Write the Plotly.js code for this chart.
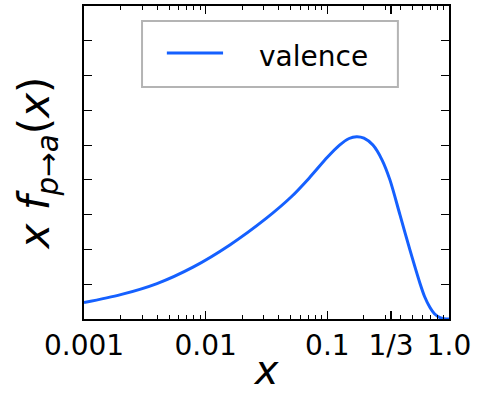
<!DOCTYPE html>
<html>
<head>
<meta charset="utf-8">
<script src="https://cdn.plot.ly/plotly-3.0.1.min.js"></script>
<style>
  html, body { margin: 0; padding: 0; background: #ffffff; }
  #chart { width: 477px; height: 393px; }
</style>
</head>
<body>
<div id="chart"></div>
<script>
// Momentum fraction x and the valence distribution x f(x)
const xValues = [0.001, 0.002, 0.00398, 0.00794, 0.0158, 0.0316, 0.0501, 0.0708, 0.1,
                 0.126, 0.151, 0.174, 0.2, 0.237, 0.282, 0.327, 0.395, 0.478,
                 0.577, 0.631, 0.698, 0.759, 0.843, 0.912, 1.0];
const xfValues = [0.47, 0.70, 1.02, 1.50, 2.13, 2.90, 3.50, 4.05, 4.65,
                  5.00, 5.19, 5.24, 5.20, 5.00, 4.57, 4.00, 3.00, 1.98,
                  1.03, 0.64, 0.33, 0.15, 0.04, 0.01, 0.0];

const seriesName = 'valence';
const xTickVals = [0.001, 0.01, 0.1, 1 / 3, 1.0];
const xTickText = ['0.001', '0.01', '0.1', '1/3', '1.0'];
const minorTickVals = [];
for (let d = -3; d < 0; d++) {
  for (let m = 2; m <= 9; m++) minorTickVals.push(m * Math.pow(10, d));
}

const lineColor = '#1560ff';
const font = 'DejaVu Sans, Verdana, sans-serif';

const curve = {
  x: xValues,
  y: xfValues,
  type: 'scatter',
  mode: 'lines',
  name: seriesName,
  line: { color: lineColor, width: 3, shape: 'spline', smoothing: 0.8 },
  showlegend: false,
  hoverinfo: 'skip'
};

const layout = {
  width: 477,
  height: 393,
  margin: { l: 84, r: 28, t: 6, b: 74 },
  paper_bgcolor: '#ffffff',
  plot_bgcolor: '#ffffff',
  font: { family: font, color: '#000000' },
  xaxis: {
    type: 'log',
    range: [-3, 0],
    tickmode: 'array',
    tickvals: xTickVals,
    ticktext: xTickText,
    ticks: 'inside',
    ticklen: 8,
    tickwidth: 1.2,
    tickcolor: '#000000',
    ticklabelstandoff: 0,
    tickfont: { family: font, size: 28, color: '#000000' },
    minor: {
      tickmode: 'array',
      tickvals: minorTickVals,
      ticks: 'inside',
      ticklen: 4,
      tickwidth: 1,
      tickcolor: '#000000',
      showgrid: false
    },
    showline: true,
    linecolor: '#000000',
    linewidth: 2,
    mirror: 'ticks',
    showgrid: false,
    zeroline: false,
    automargin: false,
    title: { text: '<i>x</i>', font: { family: font, size: 40, color: '#000000' }, standoff: 13 }
  },
  yaxis: {
    range: [0, 9],
    tickmode: 'linear',
    tick0: 0,
    dtick: 1,
    ticks: 'inside',
    ticklen: 8,
    tickwidth: 1.2,
    tickcolor: '#000000',
    showticklabels: false,
    showline: true,
    linecolor: '#000000',
    linewidth: 2,
    mirror: 'ticks',
    showgrid: false,
    zeroline: false,
    automargin: false,
    title: { text: '<i>x f</i><sub><i>p→a</i></sub>(<i>x</i>)', font: { family: font, size: 42, color: '#000000' }, standoff: 19 }
  },
  shapes: [
    // legend frame
    { type: 'rect', xref: 'paper', yref: 'paper', x0: 0.159, x1: 0.860, y0: 0.741, y1: 0.952,
      line: { color: '#b4b4b4', width: 2 }, fillcolor: '#ffffff', layer: 'above' },
    // legend swatch
    { type: 'line', xref: 'paper', yref: 'paper', x0: 0.227, x1: 0.381, y0: 0.850, y1: 0.850,
      line: { color: lineColor, width: 3 }, layer: 'above' }
  ],
  annotations: [
    { text: seriesName, xref: 'paper', yref: 'paper', x: 0.473, y: 0.838, xanchor: 'left', yanchor: 'middle',
      showarrow: false, font: { family: font, size: 28, color: '#000000' } }
  ]
};

Plotly.newPlot('chart', [curve], layout, { displayModeBar: false, staticPlot: true });
</script>
</body>
</html>
